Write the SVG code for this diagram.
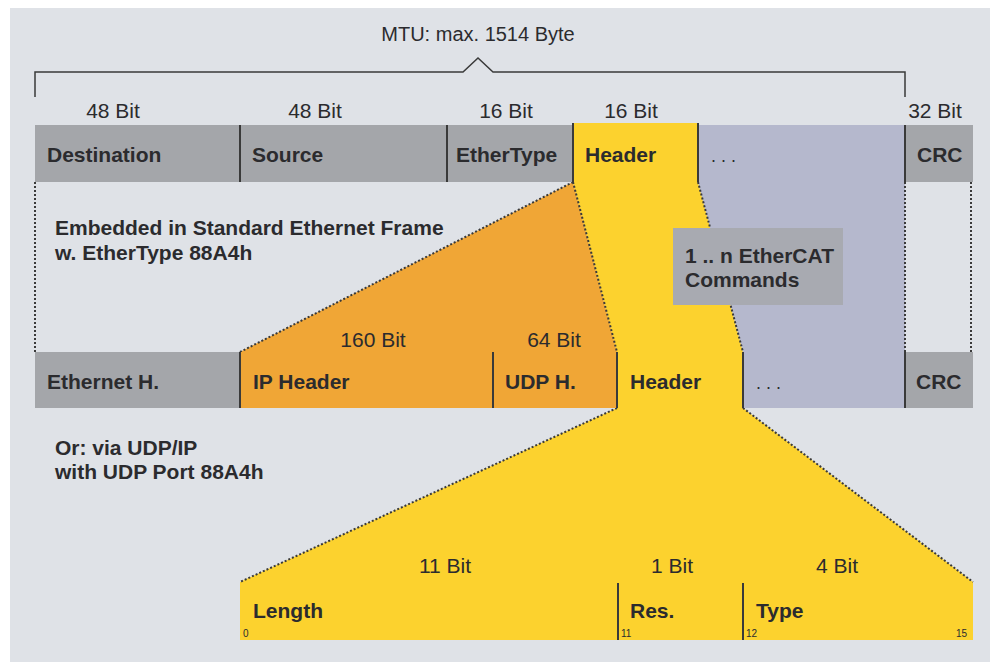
<svg xmlns="http://www.w3.org/2000/svg" width="998" height="662" viewBox="0 0 998 662">
<style>
.t{font-family:"Liberation Sans",Arial,sans-serif;fill:#2b2b2e;font-size:21px}
.b{font-weight:bold}
.c{text-anchor:middle}
.s{font-size:10px}
.gray{fill:#a4a6aa}
.yel{fill:#fcd22e}
.org{fill:#f0a636}
.blu{fill:#b5b8cd}
.div{stroke:#3a3a3a;stroke-width:2}
.dot{stroke:#3a3a3a;stroke-width:2;stroke-dasharray:2 2;fill:none}
</style>
<rect x="0" y="0" width="998" height="662" fill="#ffffff"/>
<rect x="10" y="8" width="980" height="654" fill="#dfe2e7"/>

<g id="connectors">
  <polygon class="org" points="240,352 573,182 617,352"/>
  <polygon class="yel" points="573,182 698,182 743,352 617,352"/>
  <polygon class="blu" points="698,182 905,182 905,352 743,352"/>
  <polygon class="yel" points="617,408 743,408 973,582 973,640 240,640 240,582"/>
  <line class="dot" x1="240" y1="352" x2="573" y2="182"/>
  <line class="dot" x1="573" y1="182" x2="617" y2="352"/>
  <line class="dot" x1="698" y1="182" x2="743" y2="352"/>
  <line class="dot" x1="617" y1="408" x2="240" y2="582"/>
  <line class="dot" x1="743" y1="408" x2="973" y2="582"/>
  <line class="dot" x1="35" y1="182" x2="35" y2="352"/>
  <line class="dot" x1="905" y1="182" x2="905" y2="352"/>
  <line class="dot" x1="971" y1="182" x2="971" y2="352"/>
</g>

<g id="mtu">
  <polyline points="35,97 35,72 463,72 478,58 493,72 905,72 905,97" fill="none" stroke="#3a3a3a" stroke-width="1.5"/>
  <text class="t c" x="478" y="41" style="font-size:20px">MTU: max. 1514 Byte</text>
</g>

<g id="frame1">
  <rect class="gray" x="35" y="125" width="205" height="57"/>
  <rect class="gray" x="240" y="125" width="207" height="57"/>
  <rect class="gray" x="447" y="125" width="126" height="57"/>
  <rect class="yel" x="573" y="123" width="125" height="59"/>
  <rect class="blu" x="698" y="125" width="207" height="57"/>
  <rect class="gray" x="905" y="125" width="68" height="57"/>
  <line class="div" x1="240" y1="125" x2="240" y2="182"/>
  <line class="div" x1="447" y1="125" x2="447" y2="182"/>
  <line class="div" x1="573" y1="123" x2="573" y2="182"/>
  <line class="div" x1="698" y1="123" x2="698" y2="182"/>
  <line class="div" x1="905" y1="125" x2="905" y2="182"/>
  <text class="t c" x="113" y="118">48 Bit</text>
  <text class="t c" x="315" y="118">48 Bit</text>
  <text class="t c" x="506" y="118">16 Bit</text>
  <text class="t c" x="631" y="118">16 Bit</text>
  <text class="t c" x="935" y="118">32 Bit</text>
  <text class="t b" x="47" y="162">Destination</text>
  <text class="t b" x="252" y="162">Source</text>
  <text class="t b" x="456" y="162">EtherType</text>
  <text class="t b" x="585" y="162">Header</text>
  <text class="t" x="711" y="162" style="font-size:18px">. . .</text>
  <text class="t b" x="917" y="162">CRC</text>
</g>

<g id="embedded">
  <text class="t b" x="55" y="235">Embedded in Standard Ethernet Frame</text>
  <text class="t b" x="55" y="260">w. EtherType 88A4h</text>
</g>

<g id="commands">
  <rect x="673" y="228" width="170" height="77" fill="#a8aab1"/>
  <text class="t b" x="685" y="263">1 .. n EtherCAT</text>
  <text class="t b" x="685" y="287">Commands</text>
</g>

<g id="frame2">
  <rect class="gray" x="35" y="352" width="205" height="56"/>
  <rect class="org" x="240" y="352" width="253" height="56"/>
  <rect class="org" x="493" y="352" width="124" height="56"/>
  <rect class="yel" x="617" y="352" width="126" height="56"/>
  <rect class="blu" x="743" y="352" width="162" height="56"/>
  <rect class="gray" x="905" y="352" width="68" height="56"/>
  <line class="div" x1="240" y1="352" x2="240" y2="408"/>
  <line class="div" x1="493" y1="352" x2="493" y2="408"/>
  <line class="div" x1="617" y1="352" x2="617" y2="408"/>
  <line class="div" x1="743" y1="352" x2="743" y2="408"/>
  <line class="div" x1="905" y1="352" x2="905" y2="408"/>
  <text class="t c" x="373" y="347">160 Bit</text>
  <text class="t c" x="554" y="347">64 Bit</text>
  <text class="t b" x="47" y="389">Ethernet H.</text>
  <text class="t b" x="253" y="389">IP Header</text>
  <text class="t b" x="505" y="389">UDP H.</text>
  <text class="t b" x="630" y="389">Header</text>
  <text class="t" x="756" y="389" style="font-size:18px">. . .</text>
  <text class="t b" x="916" y="389">CRC</text>
</g>

<g id="udp">
  <text class="t b" x="55" y="455">Or: via UDP/IP</text>
  <text class="t b" x="55" y="479">with UDP Port 88A4h</text>
</g>

<g id="header-detail">
  <line class="div" x1="618" y1="583" x2="618" y2="640"/>
  <line class="div" x1="743" y1="583" x2="743" y2="640"/>
  <text class="t c" x="445" y="573">11 Bit</text>
  <text class="t c" x="672" y="573">1 Bit</text>
  <text class="t c" x="837" y="573">4 Bit</text>
  <text class="t b" x="253" y="618">Length</text>
  <text class="t b" x="630" y="618">Res.</text>
  <text class="t b" x="756" y="618">Type</text>
  <text class="t s" x="243" y="637">0</text>
  <text class="t s" x="621" y="637">11</text>
  <text class="t s" x="746" y="637">12</text>
  <text class="t s" x="956" y="637">15</text>
</g>
</svg>
